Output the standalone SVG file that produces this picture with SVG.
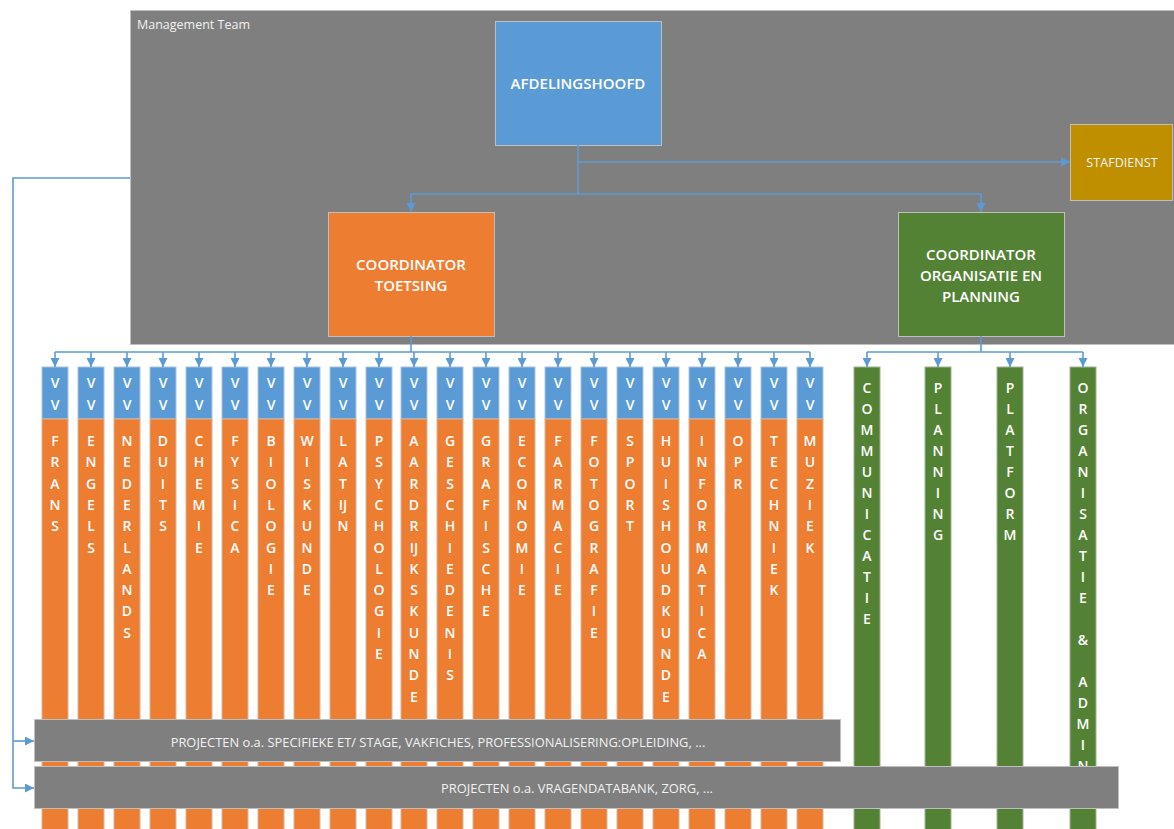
<svg xmlns="http://www.w3.org/2000/svg" width="1174" height="829" viewBox="0 0 1174 829">
<defs>
<marker id="ah" markerUnits="userSpaceOnUse" markerWidth="9" markerHeight="9" refX="9" refY="4.5" orient="auto"><path d="M0,0 L9,4.5 L0,9 z" fill="#5B9BD5"/></marker>
<style>
.bg{fill:#FFFFFF}
.mt{fill:#7F7F7F;stroke:#BFBFBF;stroke-width:1}
.box{stroke:#BFBFBF;stroke-width:1}
.blue{fill:#5B9BD5}
.orange{fill:#ED7D31}
.green{fill:#548235}
.gold{fill:#BF8F00}
.vv{fill:#5B9BD5;stroke:#A9C4DE;stroke-width:1}
.or{fill:#ED7D31;stroke:#D9B49A;stroke-width:1}
.gr{fill:#548235;stroke:#9FB394;stroke-width:1}
.bar{fill:#7F7F7F;stroke:#BFBFBF;stroke-width:1}
.title{font-family:"Open Sans","Liberation Sans",sans-serif;font-weight:600;font-size:15px;fill:#FFFFFF;text-anchor:middle}
.small{font-family:"Open Sans","Liberation Sans",sans-serif;font-weight:400;font-size:12.5px;fill:#F2F2F2}
.cl{font-family:"Open Sans","Liberation Sans",sans-serif;font-weight:600;font-size:14px;fill:#FFFFFF;text-anchor:middle}
.bt{font-family:"Open Sans","Liberation Sans",sans-serif;font-weight:400;font-size:12.9px;fill:#F2F2F2;text-anchor:middle}
.conn{stroke:#5B9BD5;stroke-width:1.6;fill:none}
.arr{stroke:#5B9BD5;stroke-width:1.6;fill:none;marker-end:url(#ah)}
</style>
</defs>
<rect class="bg" x="0" y="0" width="1174" height="829"/>

<g id="management-team">
<rect class="mt" x="130.5" y="10.5" width="1050" height="334"/>
<text class="small" x="137" y="29">Management Team</text>
</g>

<g id="afdelingshoofd">
<rect class="box blue" x="495.5" y="21.5" width="166" height="124"/>
<text class="title" x="578" y="89">AFDELINGSHOOFD</text>
</g>

<g id="stafdienst">
<rect class="box gold" x="1070.5" y="124.5" width="102" height="76"/>
<text class="small" x="1122" y="167" style="text-anchor:middle;font-size:12.6px">STAFDIENST</text>
</g>

<g id="coordinator-toetsing">
<rect class="box orange" x="328.5" y="212.5" width="166" height="124"/>
<text class="title" x="411" y="270">COORDINATOR</text>
<text class="title" x="411" y="291">TOETSING</text>
</g>

<g id="coordinator-organisatie">
<rect class="box green" x="898.5" y="212.5" width="166" height="124"/>
<text class="title" x="981" y="260">COORDINATOR</text>
<text class="title" x="981" y="281">ORGANISATIE EN</text>
<text class="title" x="981" y="302">PLANNING</text>
</g>

<g id="col-frans"><rect class="vv" x="42" y="367" width="26" height="52"/><rect class="or" x="42" y="419" width="26" height="420"/>
<text class="cl" y="388"><tspan x="55">V</tspan><tspan x="55" dy="22">V</tspan></text>
<text class="cl" y="446"><tspan x="55">F</tspan><tspan x="55" dy="21.3">R</tspan><tspan x="55" dy="21.3">A</tspan><tspan x="55" dy="21.3">N</tspan><tspan x="55" dy="21.3">S</tspan></text></g>

<g id="col-engels"><rect class="vv" x="78" y="367" width="26" height="52"/><rect class="or" x="78" y="419" width="26" height="420"/>
<text class="cl" y="388"><tspan x="91">V</tspan><tspan x="91" dy="22">V</tspan></text>
<text class="cl" y="446"><tspan x="91">E</tspan><tspan x="91" dy="21.3">N</tspan><tspan x="91" dy="21.3">G</tspan><tspan x="91" dy="21.3">E</tspan><tspan x="91" dy="21.3">L</tspan><tspan x="91" dy="21.3">S</tspan></text></g>

<g id="col-nederlands"><rect class="vv" x="114" y="367" width="26" height="52"/><rect class="or" x="114" y="419" width="26" height="420"/>
<text class="cl" y="388"><tspan x="127">V</tspan><tspan x="127" dy="22">V</tspan></text>
<text class="cl" y="446"><tspan x="127">N</tspan><tspan x="127" dy="21.3">E</tspan><tspan x="127" dy="21.3">D</tspan><tspan x="127" dy="21.3">E</tspan><tspan x="127" dy="21.3">R</tspan><tspan x="127" dy="21.3">L</tspan><tspan x="127" dy="21.3">A</tspan><tspan x="127" dy="21.3">N</tspan><tspan x="127" dy="21.3">D</tspan><tspan x="127" dy="21.3">S</tspan></text></g>

<g id="col-duits"><rect class="vv" x="150" y="367" width="26" height="52"/><rect class="or" x="150" y="419" width="26" height="420"/>
<text class="cl" y="388"><tspan x="163">V</tspan><tspan x="163" dy="22">V</tspan></text>
<text class="cl" y="446"><tspan x="163">D</tspan><tspan x="163" dy="21.3">U</tspan><tspan x="163" dy="21.3">I</tspan><tspan x="163" dy="21.3">T</tspan><tspan x="163" dy="21.3">S</tspan></text></g>

<g id="col-chemie"><rect class="vv" x="186" y="367" width="26" height="52"/><rect class="or" x="186" y="419" width="26" height="420"/>
<text class="cl" y="388"><tspan x="199">V</tspan><tspan x="199" dy="22">V</tspan></text>
<text class="cl" y="446"><tspan x="199">C</tspan><tspan x="199" dy="21.3">H</tspan><tspan x="199" dy="21.3">E</tspan><tspan x="199" dy="21.3">M</tspan><tspan x="199" dy="21.3">I</tspan><tspan x="199" dy="21.3">E</tspan></text></g>

<g id="col-fysica"><rect class="vv" x="222" y="367" width="26" height="52"/><rect class="or" x="222" y="419" width="26" height="420"/>
<text class="cl" y="388"><tspan x="235">V</tspan><tspan x="235" dy="22">V</tspan></text>
<text class="cl" y="446"><tspan x="235">F</tspan><tspan x="235" dy="21.3">Y</tspan><tspan x="235" dy="21.3">S</tspan><tspan x="235" dy="21.3">I</tspan><tspan x="235" dy="21.3">C</tspan><tspan x="235" dy="21.3">A</tspan></text></g>

<g id="col-biologie"><rect class="vv" x="258" y="367" width="26" height="52"/><rect class="or" x="258" y="419" width="26" height="420"/>
<text class="cl" y="388"><tspan x="271">V</tspan><tspan x="271" dy="22">V</tspan></text>
<text class="cl" y="446"><tspan x="271">B</tspan><tspan x="271" dy="21.3">I</tspan><tspan x="271" dy="21.3">O</tspan><tspan x="271" dy="21.3">L</tspan><tspan x="271" dy="21.3">O</tspan><tspan x="271" dy="21.3">G</tspan><tspan x="271" dy="21.3">I</tspan><tspan x="271" dy="21.3">E</tspan></text></g>

<g id="col-wiskunde"><rect class="vv" x="294" y="367" width="26" height="52"/><rect class="or" x="294" y="419" width="26" height="420"/>
<text class="cl" y="388"><tspan x="307">V</tspan><tspan x="307" dy="22">V</tspan></text>
<text class="cl" y="446"><tspan x="307">W</tspan><tspan x="307" dy="21.3">I</tspan><tspan x="307" dy="21.3">S</tspan><tspan x="307" dy="21.3">K</tspan><tspan x="307" dy="21.3">U</tspan><tspan x="307" dy="21.3">N</tspan><tspan x="307" dy="21.3">D</tspan><tspan x="307" dy="21.3">E</tspan></text></g>

<g id="col-latijn"><rect class="vv" x="330" y="367" width="26" height="52"/><rect class="or" x="330" y="419" width="26" height="420"/>
<text class="cl" y="388"><tspan x="343">V</tspan><tspan x="343" dy="22">V</tspan></text>
<text class="cl" y="446"><tspan x="343">L</tspan><tspan x="343" dy="21.3">A</tspan><tspan x="343" dy="21.3">T</tspan><tspan x="343" dy="21.3">IJ</tspan><tspan x="343" dy="21.3">N</tspan></text></g>

<g id="col-psychologie"><rect class="vv" x="366" y="367" width="26" height="52"/><rect class="or" x="366" y="419" width="26" height="420"/>
<text class="cl" y="388"><tspan x="379">V</tspan><tspan x="379" dy="22">V</tspan></text>
<text class="cl" y="446"><tspan x="379">P</tspan><tspan x="379" dy="21.3">S</tspan><tspan x="379" dy="21.3">Y</tspan><tspan x="379" dy="21.3">C</tspan><tspan x="379" dy="21.3">H</tspan><tspan x="379" dy="21.3">O</tspan><tspan x="379" dy="21.3">L</tspan><tspan x="379" dy="21.3">O</tspan><tspan x="379" dy="21.3">G</tspan><tspan x="379" dy="21.3">I</tspan><tspan x="379" dy="21.3">E</tspan></text></g>

<g id="col-aardrijkskunde"><rect class="vv" x="401" y="367" width="26" height="52"/><rect class="or" x="401" y="419" width="26" height="420"/>
<text class="cl" y="388"><tspan x="414">V</tspan><tspan x="414" dy="22">V</tspan></text>
<text class="cl" y="446"><tspan x="414">A</tspan><tspan x="414" dy="21.3">A</tspan><tspan x="414" dy="21.3">R</tspan><tspan x="414" dy="21.3">D</tspan><tspan x="414" dy="21.3">R</tspan><tspan x="414" dy="21.3">IJ</tspan><tspan x="414" dy="21.3">K</tspan><tspan x="414" dy="21.3">S</tspan><tspan x="414" dy="21.3">K</tspan><tspan x="414" dy="21.3">U</tspan><tspan x="414" dy="21.3">N</tspan><tspan x="414" dy="21.3">D</tspan><tspan x="414" dy="21.3">E</tspan></text></g>

<g id="col-geschiedenis"><rect class="vv" x="437" y="367" width="26" height="52"/><rect class="or" x="437" y="419" width="26" height="420"/>
<text class="cl" y="388"><tspan x="450">V</tspan><tspan x="450" dy="22">V</tspan></text>
<text class="cl" y="446"><tspan x="450">G</tspan><tspan x="450" dy="21.3">E</tspan><tspan x="450" dy="21.3">S</tspan><tspan x="450" dy="21.3">C</tspan><tspan x="450" dy="21.3">H</tspan><tspan x="450" dy="21.3">I</tspan><tspan x="450" dy="21.3">E</tspan><tspan x="450" dy="21.3">D</tspan><tspan x="450" dy="21.3">E</tspan><tspan x="450" dy="21.3">N</tspan><tspan x="450" dy="21.3">I</tspan><tspan x="450" dy="21.3">S</tspan></text></g>

<g id="col-grafische"><rect class="vv" x="473" y="367" width="26" height="52"/><rect class="or" x="473" y="419" width="26" height="420"/>
<text class="cl" y="388"><tspan x="486">V</tspan><tspan x="486" dy="22">V</tspan></text>
<text class="cl" y="446"><tspan x="486">G</tspan><tspan x="486" dy="21.3">R</tspan><tspan x="486" dy="21.3">A</tspan><tspan x="486" dy="21.3">F</tspan><tspan x="486" dy="21.3">I</tspan><tspan x="486" dy="21.3">S</tspan><tspan x="486" dy="21.3">C</tspan><tspan x="486" dy="21.3">H</tspan><tspan x="486" dy="21.3">E</tspan></text></g>

<g id="col-economie"><rect class="vv" x="509" y="367" width="26" height="52"/><rect class="or" x="509" y="419" width="26" height="420"/>
<text class="cl" y="388"><tspan x="522">V</tspan><tspan x="522" dy="22">V</tspan></text>
<text class="cl" y="446"><tspan x="522">E</tspan><tspan x="522" dy="21.3">C</tspan><tspan x="522" dy="21.3">O</tspan><tspan x="522" dy="21.3">N</tspan><tspan x="522" dy="21.3">O</tspan><tspan x="522" dy="21.3">M</tspan><tspan x="522" dy="21.3">I</tspan><tspan x="522" dy="21.3">E</tspan></text></g>

<g id="col-farmacie"><rect class="vv" x="545" y="367" width="26" height="52"/><rect class="or" x="545" y="419" width="26" height="420"/>
<text class="cl" y="388"><tspan x="558">V</tspan><tspan x="558" dy="22">V</tspan></text>
<text class="cl" y="446"><tspan x="558">F</tspan><tspan x="558" dy="21.3">A</tspan><tspan x="558" dy="21.3">R</tspan><tspan x="558" dy="21.3">M</tspan><tspan x="558" dy="21.3">A</tspan><tspan x="558" dy="21.3">C</tspan><tspan x="558" dy="21.3">I</tspan><tspan x="558" dy="21.3">E</tspan></text></g>

<g id="col-fotografie"><rect class="vv" x="581" y="367" width="26" height="52"/><rect class="or" x="581" y="419" width="26" height="420"/>
<text class="cl" y="388"><tspan x="594">V</tspan><tspan x="594" dy="22">V</tspan></text>
<text class="cl" y="446"><tspan x="594">F</tspan><tspan x="594" dy="21.3">O</tspan><tspan x="594" dy="21.3">T</tspan><tspan x="594" dy="21.3">O</tspan><tspan x="594" dy="21.3">G</tspan><tspan x="594" dy="21.3">R</tspan><tspan x="594" dy="21.3">A</tspan><tspan x="594" dy="21.3">F</tspan><tspan x="594" dy="21.3">I</tspan><tspan x="594" dy="21.3">E</tspan></text></g>

<g id="col-sport"><rect class="vv" x="617" y="367" width="26" height="52"/><rect class="or" x="617" y="419" width="26" height="420"/>
<text class="cl" y="388"><tspan x="630">V</tspan><tspan x="630" dy="22">V</tspan></text>
<text class="cl" y="446"><tspan x="630">S</tspan><tspan x="630" dy="21.3">P</tspan><tspan x="630" dy="21.3">O</tspan><tspan x="630" dy="21.3">R</tspan><tspan x="630" dy="21.3">T</tspan></text></g>

<g id="col-huishoudkunde"><rect class="vv" x="653" y="367" width="26" height="52"/><rect class="or" x="653" y="419" width="26" height="420"/>
<text class="cl" y="388"><tspan x="666">V</tspan><tspan x="666" dy="22">V</tspan></text>
<text class="cl" y="446"><tspan x="666">H</tspan><tspan x="666" dy="21.3">U</tspan><tspan x="666" dy="21.3">I</tspan><tspan x="666" dy="21.3">S</tspan><tspan x="666" dy="21.3">H</tspan><tspan x="666" dy="21.3">O</tspan><tspan x="666" dy="21.3">U</tspan><tspan x="666" dy="21.3">D</tspan><tspan x="666" dy="21.3">K</tspan><tspan x="666" dy="21.3">U</tspan><tspan x="666" dy="21.3">N</tspan><tspan x="666" dy="21.3">D</tspan><tspan x="666" dy="21.3">E</tspan></text></g>

<g id="col-informatica"><rect class="vv" x="689" y="367" width="26" height="52"/><rect class="or" x="689" y="419" width="26" height="420"/>
<text class="cl" y="388"><tspan x="702">V</tspan><tspan x="702" dy="22">V</tspan></text>
<text class="cl" y="446"><tspan x="702">I</tspan><tspan x="702" dy="21.3">N</tspan><tspan x="702" dy="21.3">F</tspan><tspan x="702" dy="21.3">O</tspan><tspan x="702" dy="21.3">R</tspan><tspan x="702" dy="21.3">M</tspan><tspan x="702" dy="21.3">A</tspan><tspan x="702" dy="21.3">T</tspan><tspan x="702" dy="21.3">I</tspan><tspan x="702" dy="21.3">C</tspan><tspan x="702" dy="21.3">A</tspan></text></g>

<g id="col-opr"><rect class="vv" x="725" y="367" width="26" height="52"/><rect class="or" x="725" y="419" width="26" height="420"/>
<text class="cl" y="388"><tspan x="738">V</tspan><tspan x="738" dy="22">V</tspan></text>
<text class="cl" y="446"><tspan x="738">O</tspan><tspan x="738" dy="21.3">P</tspan><tspan x="738" dy="21.3">R</tspan></text></g>

<g id="col-techniek"><rect class="vv" x="761" y="367" width="26" height="52"/><rect class="or" x="761" y="419" width="26" height="420"/>
<text class="cl" y="388"><tspan x="774">V</tspan><tspan x="774" dy="22">V</tspan></text>
<text class="cl" y="446"><tspan x="774">T</tspan><tspan x="774" dy="21.3">E</tspan><tspan x="774" dy="21.3">C</tspan><tspan x="774" dy="21.3">H</tspan><tspan x="774" dy="21.3">N</tspan><tspan x="774" dy="21.3">I</tspan><tspan x="774" dy="21.3">E</tspan><tspan x="774" dy="21.3">K</tspan></text></g>

<g id="col-muziek"><rect class="vv" x="797" y="367" width="26" height="52"/><rect class="or" x="797" y="419" width="26" height="420"/>
<text class="cl" y="388"><tspan x="810">V</tspan><tspan x="810" dy="22">V</tspan></text>
<text class="cl" y="446"><tspan x="810">M</tspan><tspan x="810" dy="21.3">U</tspan><tspan x="810" dy="21.3">Z</tspan><tspan x="810" dy="21.3">I</tspan><tspan x="810" dy="21.3">E</tspan><tspan x="810" dy="21.3">K</tspan></text></g>

<g id="col-communicatie"><rect class="gr" x="854" y="367" width="26" height="472"/>
<text class="cl" y="393"><tspan x="867">C</tspan><tspan x="867" dy="21">O</tspan><tspan x="867" dy="21">M</tspan><tspan x="867" dy="21">M</tspan><tspan x="867" dy="21">U</tspan><tspan x="867" dy="21">N</tspan><tspan x="867" dy="21">I</tspan><tspan x="867" dy="21">C</tspan><tspan x="867" dy="21">A</tspan><tspan x="867" dy="21">T</tspan><tspan x="867" dy="21">I</tspan><tspan x="867" dy="21">E</tspan></text></g>

<g id="col-planning"><rect class="gr" x="925" y="367" width="26" height="472"/>
<text class="cl" y="393"><tspan x="938">P</tspan><tspan x="938" dy="21">L</tspan><tspan x="938" dy="21">A</tspan><tspan x="938" dy="21">N</tspan><tspan x="938" dy="21">N</tspan><tspan x="938" dy="21">I</tspan><tspan x="938" dy="21">N</tspan><tspan x="938" dy="21">G</tspan></text></g>

<g id="col-platform"><rect class="gr" x="997" y="367" width="26" height="472"/>
<text class="cl" y="393"><tspan x="1010">P</tspan><tspan x="1010" dy="21">L</tspan><tspan x="1010" dy="21">A</tspan><tspan x="1010" dy="21">T</tspan><tspan x="1010" dy="21">F</tspan><tspan x="1010" dy="21">O</tspan><tspan x="1010" dy="21">R</tspan><tspan x="1010" dy="21">M</tspan></text></g>

<g id="col-organisatie-admin"><rect class="gr" x="1070" y="367" width="26" height="472"/>
<text class="cl" y="393"><tspan x="1083">O</tspan><tspan x="1083" dy="21">R</tspan><tspan x="1083" dy="21">G</tspan><tspan x="1083" dy="21">A</tspan><tspan x="1083" dy="21">N</tspan><tspan x="1083" dy="21">I</tspan><tspan x="1083" dy="21">S</tspan><tspan x="1083" dy="21">A</tspan><tspan x="1083" dy="21">T</tspan><tspan x="1083" dy="21">I</tspan><tspan x="1083" dy="21">E</tspan><tspan x="1083" dy="42">&amp;</tspan><tspan x="1083" dy="42">A</tspan><tspan x="1083" dy="21">D</tspan><tspan x="1083" dy="21">M</tspan><tspan x="1083" dy="21">I</tspan><tspan x="1083" dy="21">N</tspan></text></g>

<g id="projecten-1">
<rect class="bar" x="34.5" y="719.5" width="806" height="42"/>
<text class="bt" x="438" y="747">PROJECTEN o.a. SPECIFIEKE ET/ STAGE, VAKFICHES, PROFESSIONALISERING:OPLEIDING, ...</text>
</g>

<g id="projecten-2">
<rect class="bar" x="34.5" y="766.5" width="1084" height="42"/>
<text class="bt" x="577" y="793">PROJECTEN o.a. VRAGENDATABANK, ZORG, ...</text>
</g>

<g id="connectors">
<path class="conn" d="M578,145 V194"/>
<path class="arr" d="M578,162 H1070"/>
<path class="arr" d="M578,194 H411 V212"/>
<path class="arr" d="M578,194 H981 V212"/>
<path class="conn" d="M130,178 H13 V741"/>
<path class="arr" d="M13,741 H34"/>
<path class="arr" d="M13,741 V788 H34"/>
<path class="conn" d="M411,336 V352 M55,352 H810"/>
<path class="arr" d="M55,352 V367"/>
<path class="arr" d="M91,352 V367"/>
<path class="arr" d="M127,352 V367"/>
<path class="arr" d="M163,352 V367"/>
<path class="arr" d="M199,352 V367"/>
<path class="arr" d="M235,352 V367"/>
<path class="arr" d="M271,352 V367"/>
<path class="arr" d="M307,352 V367"/>
<path class="arr" d="M343,352 V367"/>
<path class="arr" d="M379,352 V367"/>
<path class="arr" d="M414,352 V367"/>
<path class="arr" d="M450,352 V367"/>
<path class="arr" d="M486,352 V367"/>
<path class="arr" d="M522,352 V367"/>
<path class="arr" d="M558,352 V367"/>
<path class="arr" d="M594,352 V367"/>
<path class="arr" d="M630,352 V367"/>
<path class="arr" d="M666,352 V367"/>
<path class="arr" d="M702,352 V367"/>
<path class="arr" d="M738,352 V367"/>
<path class="arr" d="M774,352 V367"/>
<path class="arr" d="M810,352 V367"/>
<path class="conn" d="M981,336 V352 M867,352 H1083"/>
<path class="arr" d="M867,352 V367"/>
<path class="arr" d="M938,352 V367"/>
<path class="arr" d="M1010,352 V367"/>
<path class="arr" d="M1083,352 V367"/>
</g>
</svg>
